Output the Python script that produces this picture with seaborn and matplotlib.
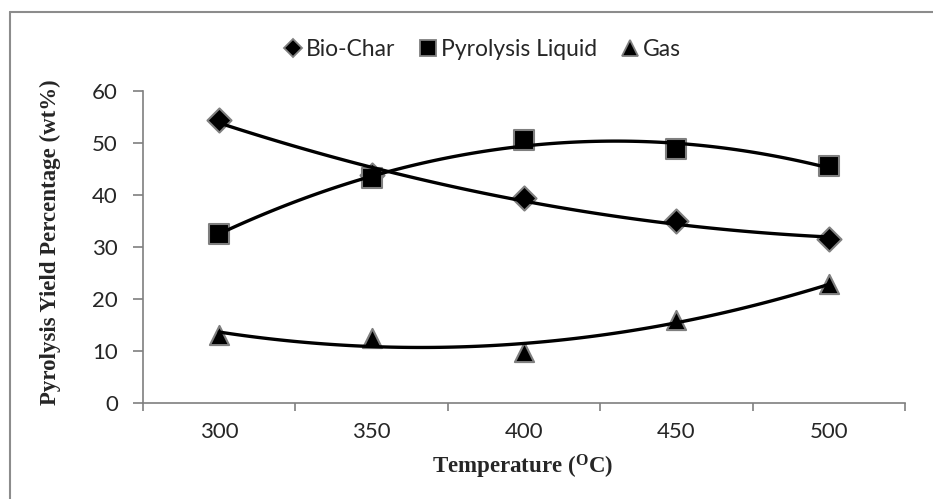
import numpy as np
import pandas as pd
import matplotlib
matplotlib.use('Agg')
import matplotlib.pyplot as plt
from matplotlib.lines import Line2D
import seaborn as sns

temps = ['300', '350', '400', '450', '500']
bio_char = [54.5, 43.8, 39.5, 35.0, 31.5]
pyro_liquid = [32.5, 43.3, 50.5, 48.8, 45.6]
gas = [13.1, 12.5, 9.8, 16.0, 22.8]

series = [
    ('Bio-Char', bio_char, 'D', 150),
    ('Pyrolysis Liquid', pyro_liquid, 's', 190),
    ('Gas', gas, '^', 190),
]

sns.set_style('white')
plt.rcParams['font.family'] = ['Lato', 'DejaVu Sans']
plt.rcParams['mathtext.default'] = 'regular'

fig = plt.figure(figsize=(9.33, 4.99), dpi=100)
ax = fig.add_axes([143 / 933, 96 / 499, 762 / 933, 312 / 499])

idx = np.arange(len(temps))
edge = '#7f7f7f'
for name, vals, mk, sz in series:
    df = pd.DataFrame({'x': idx, 'y': vals})
    # Excel-style 2nd order polynomial trendline
    sns.regplot(data=df, x='x', y='y', order=2, ci=None, truncate=True, ax=ax,
                marker=mk,
                scatter_kws={'s': sz, 'color': 'black', 'edgecolors': edge,
                             'linewidths': 1.5, 'alpha': 1, 'zorder': 2},
                line_kws={'color': 'black', 'lw': 2.4, 'zorder': 3})

ax.set_xlim(-0.5, 4.5)
ax.set_ylim(0, 60)
ax.set_yticks(range(0, 61, 10))
ax.set_xticks(idx)
ax.set_xticklabels(temps)
ax.set_xticks(np.arange(-0.5, 4.6, 1), minor=True)
ax.tick_params(axis='x', which='major', length=0, pad=13.5, labelsize=16)
ax.tick_params(axis='x', which='minor', length=6, width=1.2, color=edge, direction='out')
ax.tick_params(axis='y', length=7, width=1.2, color=edge, direction='out', pad=11, labelsize=16)
ax.tick_params(bottom=True, left=True, which='both')

for s in ['top', 'right']:
    ax.spines[s].set_visible(False)
for s in ['left', 'bottom']:
    ax.spines[s].set_color(edge)
    ax.spines[s].set_linewidth(1.2)

ax.set_xlabel('Temperature ($^{O}$C)', family='Liberation Serif', fontweight='bold',
              fontsize=16.5)
ax.set_ylabel('Pyrolysis Yield Percentage (wt%)', family='Liberation Serif',
              fontweight='bold', fontsize=16.5)
ax.xaxis.set_label_coords(0.498, -0.16)
ax.yaxis.set_label_coords(-0.108, 0.515)

handles = [Line2D([], [], marker=mk, ls='none', color='black', markeredgecolor=edge,
                  markersize=11 if mk != 'D' else 9, markeredgewidth=1.3, label=name)
           for name, _, mk, _ in series]
fig.legend(handles=handles, loc='center', bbox_to_anchor=(482 / 933, 1 - 50 / 499),
           ncol=3, frameon=False, fontsize=16.5, handletextpad=0.1,
           columnspacing=1.0, handlelength=0.9)

# outer chart border (only left and top visible in crop)
fig.add_artist(Line2D([10 / 933, 10 / 933], [0, 1 - 12 / 499], color='#8c8c8c', lw=1.5,
                      transform=fig.transFigure))
fig.add_artist(Line2D([10 / 933, 1], [1 - 12 / 499, 1 - 12 / 499], color='#8c8c8c', lw=1.5,
                      transform=fig.transFigure))

fig.savefig('out.png', dpi=100, facecolor='white')
